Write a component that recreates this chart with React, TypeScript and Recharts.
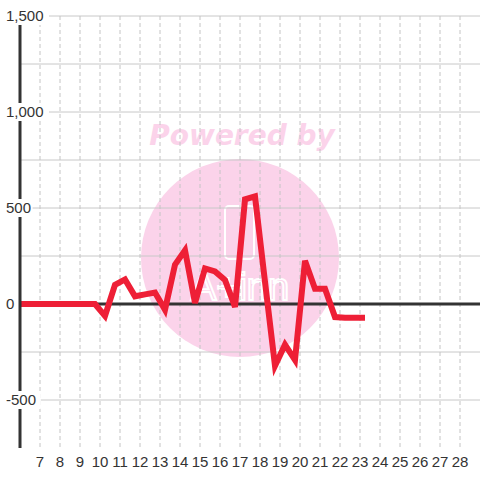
import React from 'react';
import {
  CartesianGrid,
  Line,
  LineChart,
  ReferenceLine,
  XAxis,
  YAxis,
} from 'recharts';

const xValues = [
  5.75, 6.25, 6.75, 7.25, 7.75, 8.25, 8.75, 9.25, 9.75, 10.25, 10.75, 11.25,
  11.75, 12.25, 12.75, 13.25, 13.75, 14.25, 14.75, 15.25, 15.75, 16.25, 16.75,
  17.25, 17.75, 18.25, 18.75, 19.25, 19.75, 20.25, 20.75, 21.25, 21.75, 22.25,
  22.75, 23.25,
];
const seriesValues = [
  0, 0, 0, 0, 0, 0, 0, 0, 0, -62, 100, 128, 40, 50, 60, -30, 205, 280, 5, 185,
  170, 125, -15, 545, 560, 115, -322, -212, -292, 225, 80, 80, -68, -72, -72,
  -72,
];
const xTicks = [
  7, 8, 9, 10, 11, 12, 13, 14, 15, 16, 17, 18, 19, 20, 21, 22, 23, 24, 25, 26,
  27, 28,
];
const yTicks = [-500, 0, 500, 1000, 1500];
const yGrid = [-500, -250, 0, 250, 500, 750, 1000, 1250, 1500];

const data = xValues.map((x, i) => ({ x, value: seriesValues[i] }));

const FONT = "'Liberation Sans', Arial, sans-serif";
const TEXT_COLOR = '#333';

type TickProps = { x?: number; y?: number; payload?: { value: number } };

const YTick = ({ y, payload }: TickProps) => {
  if (y == null || !payload) return null;
  const label = payload.value.toLocaleString('en-US');
  const w = label.length * 8.2 + 4;
  return (
    <g>
      <rect x={4} y={y - 9} width={w} height={18} fill='#fff' />
      <text
        x={6}
        y={y}
        dy='0.35em'
        textAnchor='start'
        fontSize={15}
        fontFamily={FONT}
        fill={TEXT_COLOR}
      >
        {label}
      </text>
    </g>
  );
};

const Watermark = () => (
  <svg
    width={480}
    height={480}
    style={{ position: 'absolute', left: 0, top: 0 }}
  >
    <circle cx={240} cy={258} r={99} fill='#fbd3ea' />
    <text
      x={242}
      y={145}
      textAnchor='middle'
      fontSize={28}
      fontWeight='bold'
      fontStyle='italic'
      fontFamily="'DejaVu Sans', Verdana, sans-serif"
      fill='#fbd3ea'
    >
      Powered by
    </text>
    <rect
      x={225}
      y={206}
      width={29}
      height={53}
      rx={4}
      fill='none'
      stroke='#fff'
      strokeWidth={2}
    />
    <text
      x={240}
      y={300}
      textAnchor='middle'
      fontSize={38}
      fontFamily={FONT}
      fill='none'
      stroke='#fff'
      strokeWidth={2}
    >
      A+inn
    </text>
  </svg>
);

export default function App() {
  return (
    <div
      style={{
        position: 'absolute',
        left: 0,
        top: 0,
        width: 480,
        height: 480,
        background: '#fff',
      }}
    >
      <Watermark />
      <div style={{ position: 'absolute', left: 0, top: 0 }}>
        <LineChart
          width={480}
          height={480}
          data={data}
          margin={{ top: 16, right: 0, bottom: 0, left: 0 }}
        >
          <CartesianGrid
            vertical={false}
            horizontalValues={yGrid}
            stroke='#c8c8c8'
            strokeWidth={1}
          />
          <CartesianGrid
            horizontal={false}
            verticalValues={xTicks}
            stroke='#c4c4c4'
            strokeDasharray='4 3'
            strokeWidth={1}
          />
          <XAxis
            dataKey='x'
            type='number'
            domain={[6, 29]}
            ticks={xTicks}
            interval={0}
            height={32}
            axisLine={false}
            tickLine={false}
            tick={{ fontSize: 15, fill: TEXT_COLOR, fontFamily: FONT }}
            allowDataOverflow
          />
          <YAxis
            type='number'
            domain={[-750, 1500]}
            ticks={yTicks}
            width={20}
            axisLine={{ stroke: '#333', strokeWidth: 3 }}
            tickLine={false}
            tick={<YTick />}
            interval={0}
          />
          <ReferenceLine y={0} stroke='#333' strokeWidth={3} />
          <Line
            type='linear'
            dataKey='value'
            stroke='#ee1f36'
            strokeWidth={6}
            dot={false}
            strokeLinejoin='miter'
            isAnimationActive={false}
          />
        </LineChart>
      </div>
    </div>
  );
}
